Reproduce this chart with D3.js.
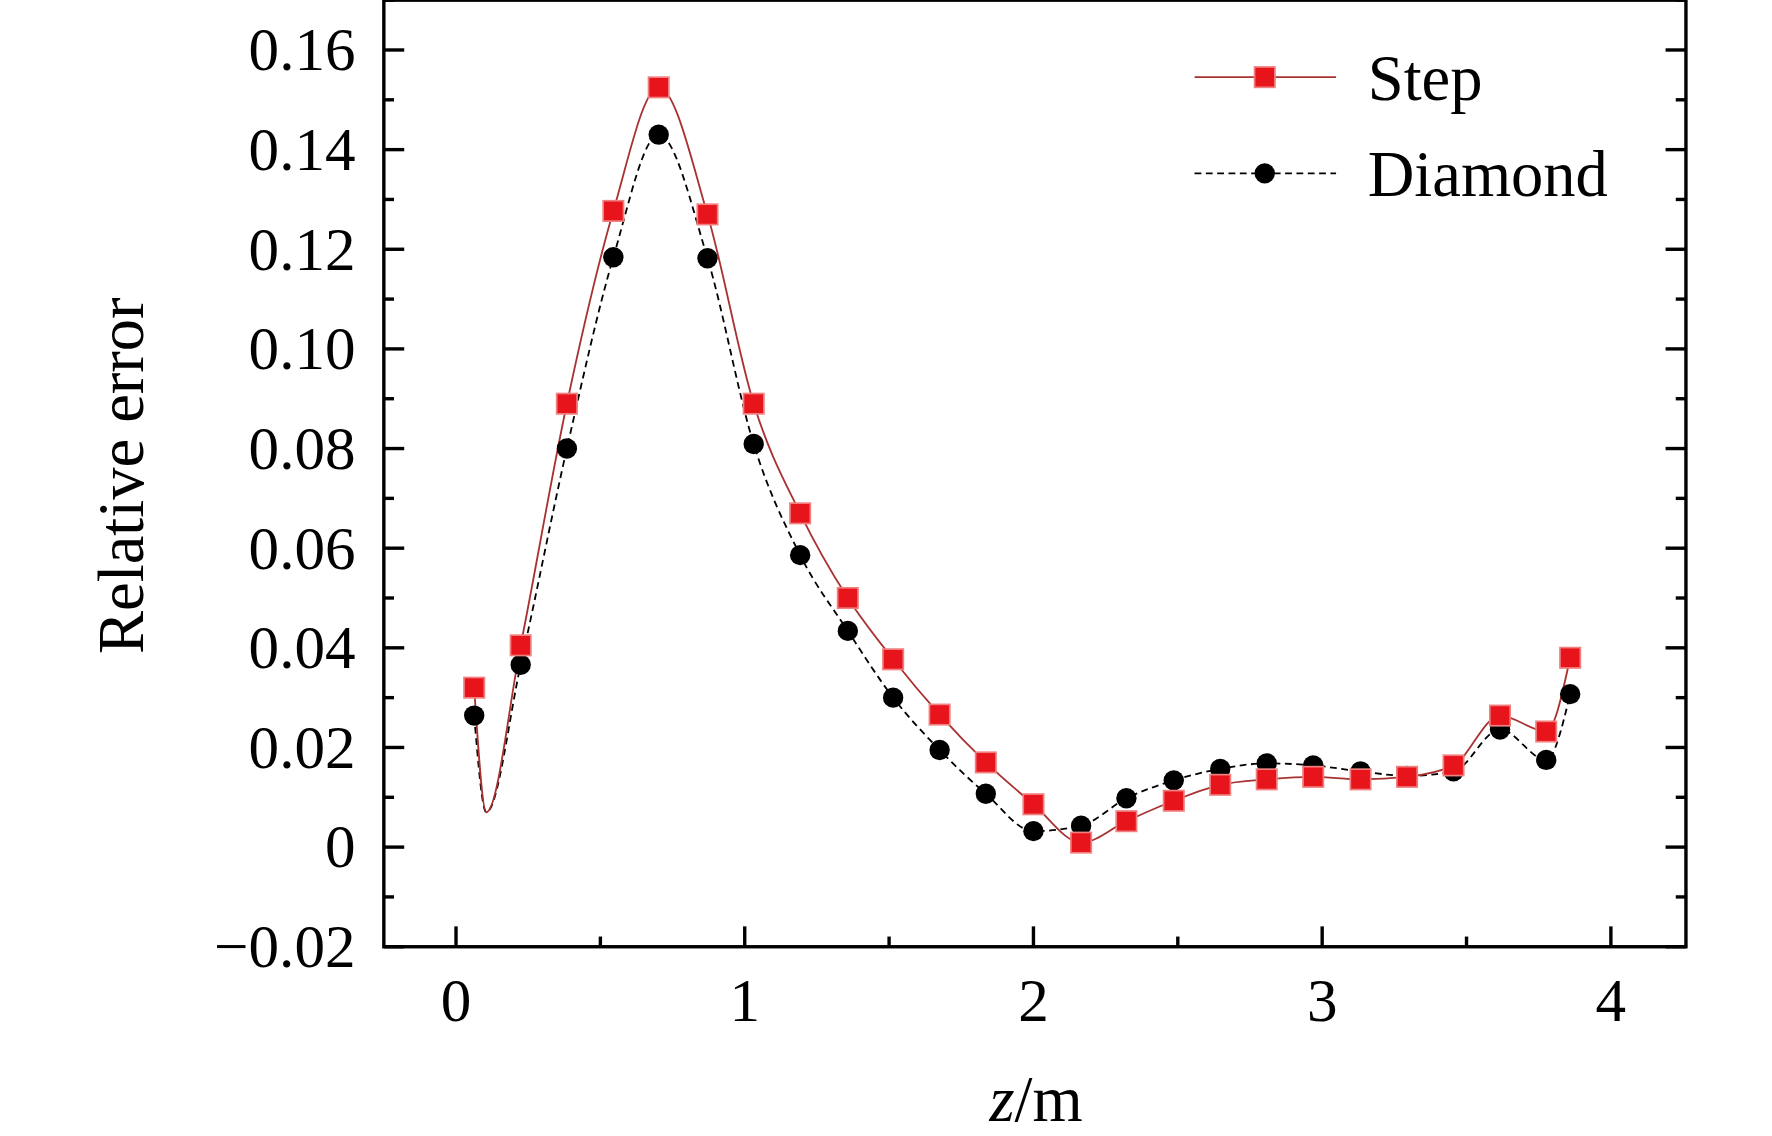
<!DOCTYPE html>
<html><head><meta charset="utf-8">
<script src="https://cdn.jsdelivr.net/npm/d3@7"></script>
<style>body{margin:0;background:#fff}</style></head>
<body><div id="chart"></div>
<script>
var zVals = [0.063,0.224,0.384,0.545,0.702,0.871,1.031,1.192,1.357,1.514,1.675,1.835,2.0,2.165,2.322,2.486,2.647,2.808,2.969,3.133,3.294,3.455,3.616,3.776,3.859];
var stepVals = [0.032,0.0405,0.089,0.1277,0.1525,0.127,0.089,0.067,0.050,0.0377,0.0266,0.017,0.0086,0.0009,0.0052,0.0093,0.0125,0.0136,0.0141,0.0136,0.0141,0.0164,0.0264,0.0232,0.038];
var diamondVals = [0.0264,0.0366,0.080,0.1184,0.143,0.1182,0.0809,0.0586,0.0434,0.030,0.0195,0.0107,0.0032,0.0043,0.0098,0.0134,0.0157,0.0168,0.0164,0.0152,0.0143,0.0152,0.0236,0.0175,0.0307];
// lines dip near z=0.1 between the first two markers
var dipZ = 0.105, dipVal = 0.007;
var xTicks = [0,1,2,3,4];
var yTicks = [-0.02,0,0.02,0.04,0.06,0.08,0.10,0.12,0.14,0.16];

var W = 1565, H = 1003;
var svg = d3.select("#chart").append("svg")
  .attr("width", 1772).attr("height", 1136)
  .attr("viewBox", "0 0 " + W + " " + H);

var x = d3.scaleLinear().domain([-0.25, 4.26]).range([339, 1489]);
var y = d3.scaleLinear().domain([-0.02, 0.17]).range([836, 0]);
var font = "'Liberation Serif', 'Times New Roman', serif";

// ticks (inward), minor ticks
var g = svg.append("g").attr("stroke", "#000").attr("stroke-width", 3);
d3.range(0, 4.01, 0.5).forEach(function(v) {
  var len = Number.isInteger(v) ? 18 : 9;
  g.append("line").attr("x1", x(v)).attr("x2", x(v)).attr("y1", 836).attr("y2", 836 - len);
});
d3.range(-0.02, 0.1701, 0.01).forEach(function(v, i) {
  var len = i % 2 === 0 ? 18 : 9;
  g.append("line").attr("x1", 339).attr("x2", 339 + len).attr("y1", y(v)).attr("y2", y(v));
  g.append("line").attr("x1", 1489).attr("x2", 1489 - len).attr("y1", y(v)).attr("y2", y(v));
});
svg.append("rect").attr("x", 339).attr("y", 0).attr("width", 1150).attr("height", 836)
  .attr("fill", "none").attr("stroke", "#000").attr("stroke-width", 3);

svg.selectAll(".xt").data(xTicks).enter().append("text")
  .attr("x", function(d) { return x(d); }).attr("y", 902)
  .attr("text-anchor", "middle").attr("font-family", font).attr("font-size", 54)
  .text(function(d) { return d; });
svg.selectAll(".yt").data(yTicks).enter().append("text")
  .attr("x", 314).attr("y", function(d) { return y(d) + 18; })
  .attr("text-anchor", "end").attr("font-family", font).attr("font-size", 54)
  .text(function(d) { return d === 0 ? "0" : (d < 0 ? "\u22120.02" : d.toFixed(2)); });

svg.append("text").attr("transform", "translate(126,420) rotate(-90)")
  .attr("text-anchor", "middle").attr("font-family", font).attr("font-size", 57)
  .text("Relative error");
var xl = svg.append("text").attr("x", 915).attr("y", 990).attr("text-anchor", "middle")
  .attr("font-family", font).attr("font-size", 57);
xl.append("tspan").attr("font-style", "italic").text("z");
xl.append("tspan").text("/m");

function lineData(vals) {
  var pts = zVals.map(function(z, i) { return [z, vals[i]]; });
  pts.splice(1, 0, [dipZ, dipVal]);
  return pts;
}
var line = d3.line().x(function(d) { return x(d[0]); }).y(function(d) { return y(d[1]); })
  .curve(d3.curveMonotoneX);

svg.append("path").attr("d", line(lineData(diamondVals))).attr("fill", "none")
  .attr("stroke", "#000").attr("stroke-width", 1.6).attr("stroke-dasharray", "6,4");
svg.append("path").attr("d", line(lineData(stepVals))).attr("fill", "none")
  .attr("stroke", "#a83232").attr("stroke-width", 1.6);

svg.selectAll(".dm").data(zVals).enter().append("circle")
  .attr("cx", function(d) { return x(d); })
  .attr("cy", function(d, i) { return y(diamondVals[i]); })
  .attr("r", 9).attr("fill", "#000");
svg.selectAll(".sm").data(zVals).enter().append("rect")
  .attr("x", function(d) { return x(d) - 9; })
  .attr("y", function(d, i) { return y(stepVals[i]) - 9; })
  .attr("width", 18).attr("height", 18)
  .attr("fill", "#e8141c").attr("stroke", "#f08080").attr("stroke-width", 1.5);

// legend
svg.append("line").attr("x1", 1055).attr("x2", 1180).attr("y1", 68).attr("y2", 68)
  .attr("stroke", "#a83232").attr("stroke-width", 1.6);
svg.append("rect").attr("x", 1108).attr("y", 59).attr("width", 18).attr("height", 18)
  .attr("fill", "#e8141c").attr("stroke", "#f08080").attr("stroke-width", 1.5);
svg.append("line").attr("x1", 1055).attr("x2", 1180).attr("y1", 153).attr("y2", 153)
  .attr("stroke", "#000").attr("stroke-width", 1.6).attr("stroke-dasharray", "6,4");
svg.append("circle").attr("cx", 1117).attr("cy", 153).attr("r", 9).attr("fill", "#000");
svg.append("text").attr("x", 1208).attr("y", 88).attr("font-family", font).attr("font-size", 57).text("Step");
svg.append("text").attr("x", 1208).attr("y", 173).attr("font-family", font).attr("font-size", 57).text("Diamond");
</script></body></html>
